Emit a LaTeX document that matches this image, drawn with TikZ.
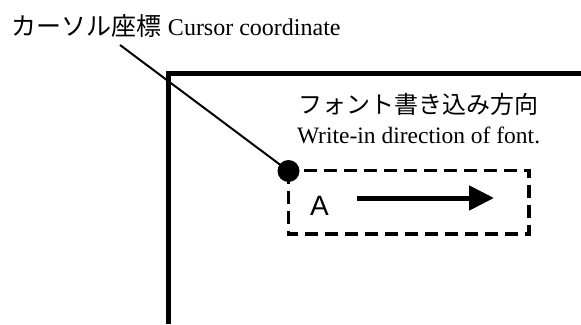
\documentclass[tikz,border=0pt]{standalone}
\usepackage{fontspec}
\setmainfont{Liberation Serif}
\newfontfamily\cjk{Noto Sans CJK JP}
\newfontfamily\arialfont{Liberation Sans}
\usetikzlibrary{arrows.meta}
\begin{document}
\begin{tikzpicture}[x=1pt,y=-1pt,
  lbl/.style={inner sep=0pt, outer sep=0pt, font=\fontsize{23.5}{27}\selectfont},
  framel/.style={line width=4.5pt},
  dashbox/.style={line width=3.5pt, dash pattern=on 13pt off 7pt},
  dotnode/.style={circle, fill=black, inner sep=0pt, minimum size=22pt},
  bigarrow/.style={line width=5pt, -{Triangle[length=25pt,width=24pt]}}]
\useasboundingbox (0,0) rectangle (581,324);
% frame
\draw[framel] (168.5,324) -- (168.5,73.5) -- (581,73.5);
% dashed box
\draw[dashbox] (288.5,170.5) rectangle (529,234);
\node[dotnode] (dot) at (288.5,171) {};
\coordinate (ls) at (120,45);
\draw[line width=2pt] (ls) -- (dot.center);
% labels
\node[lbl, anchor=base west, font=\fontsize{24}{28}\selectfont] (cur) at (12,35) {{\cjk\fontsize{25}{28}\selectfont カーソル座標} Cursor coordinate};
\node[lbl, anchor=west, font=\cjk\fontsize{24}{28}\selectfont] (jp) at (298,104) {フォント書き込み方向};
\node[lbl, anchor=base west] (en) at (297,143) {Write-in direction of font.};
\node[lbl, anchor=base west, font=\arialfont\fontsize{28}{32}\selectfont] (A) at (310,215) {A};
\coordinate (as) at (357,198);
\coordinate (ae) at (494,198);
\draw[bigarrow] (as) -- (ae);
\end{tikzpicture}
\end{document}
